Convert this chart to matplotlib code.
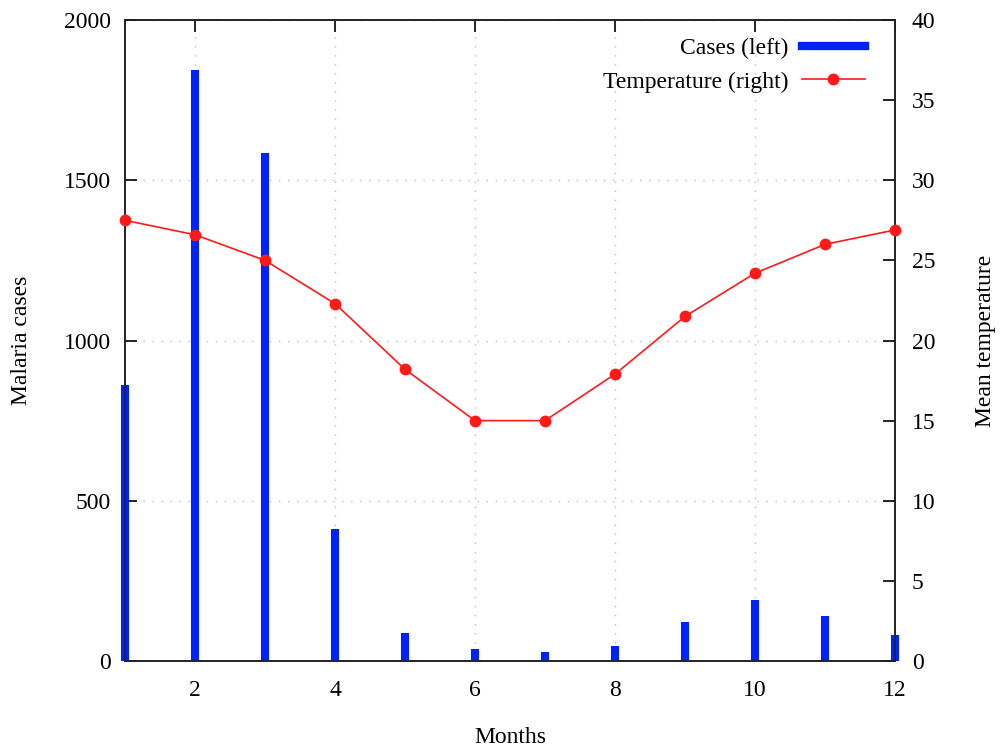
import matplotlib.pyplot as plt
from matplotlib.lines import Line2D

months = [1, 2, 3, 4, 5, 6, 7, 8, 9, 10, 11, 12]
cases = [861, 1844, 1585, 412, 87, 37, 27, 47, 122, 190, 140, 81]
temperature = [27.5, 26.6, 25.0, 22.3, 18.2, 15.0, 15.0, 17.9, 21.5, 24.2, 26.0, 26.9]

plt.rcParams['font.family'] = ['Liberation Serif', 'DejaVu Serif']
plt.rcParams['font.size'] = 17

fig = plt.figure(figsize=(10.04, 7.53), dpi=100)
ax = fig.add_axes([0.1245, 0.1222, 0.7669, 0.8512])
ax2 = ax.twinx()

# impulses for the case counts
ax.vlines(months, 0, cases, colors='#0022ff', linewidth=5.8, clip_on=False, zorder=3)
ax.set_xlim(1, 12)
ax.set_ylim(0, 2000)
ax.set_xticks([2, 4, 6, 8, 10, 12])
ax.set_yticks([0, 500, 1000, 1500, 2000])
ax.grid(True, color='#bbbbbb', linestyle=(0, (1, 5.5)), linewidth=1)
ax.tick_params(direction='in', length=8.5, width=1.2, top=True, pad=14)
ax.tick_params(axis='y', pad=10)
ax.set_xlabel('Months', va='center')
ax.xaxis.set_label_coords(0.5, -0.12)
ax.set_ylabel('Malaria cases', va='center')
ax.yaxis.set_label_coords(-0.134, 0.5)

ax2.plot(months, temperature, color='#ff1a1a', linewidth=1.2, marker='o',
         markersize=7.5, clip_on=False, zorder=4)
ax2.set_ylim(0, 40)
ax2.set_yticks(range(0, 45, 5))
ax2.tick_params(direction='in', length=8.5, width=1.2, pad=12)
ax2.set_ylabel('Mean temperature', va='center')
ax2.yaxis.set_label_coords(1.117, 0.5)

for a in (ax, ax2):
    for s in a.spines.values():
        s.set_linewidth(1.2)
        s.set_color('#222222')

handles = [Line2D([], [], color='#0022ff', linewidth=6),
           Line2D([], [], color='#ff1a1a', linewidth=1.2, marker='o', markersize=7.5)]
ax2.legend(handles, ['Cases (left)', 'Temperature (right)'], loc='upper right',
           bbox_to_anchor=(1 - 12 / 770, 1), frameon=False, markerfirst=False,
           handlelength=2.7, handletextpad=0.55, borderaxespad=0.3,
           borderpad=0.45, labelspacing=0.5)

fig.savefig('out.png', dpi=100)
